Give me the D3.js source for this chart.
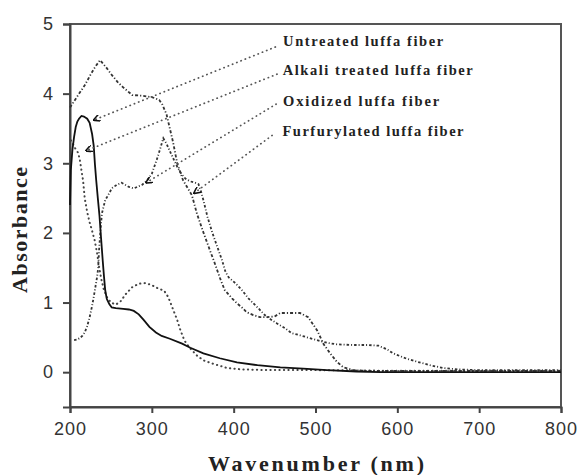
<!DOCTYPE html>
<html><head><meta charset="utf-8">
<script src="https://cdn.jsdelivr.net/npm/d3@7"></script>
<style>body{margin:0;background:#fff}svg{display:block}</style>
</head><body><svg id="c" width="577" height="475"></svg>
<script>
// ---- data ----
const xTicks = [200, 300, 400, 500, 600, 700, 800];
const yTicks = [0, 1, 2, 3, 4, 5];

// solid curve
const solidNm  = [200,201,203,205,207,209,211,214,217,221,224,227,229,230.5,232,234,236,238,240,241.5,243,245,248,251,256,265,272,278,284,290,297,305,312,322,337,347,363,383,404,429,457,485,514,550,580,800];
const solidAbs = [2.4,2.9,3.2,3.38,3.52,3.6,3.64,3.68,3.67,3.64,3.58,3.42,3.25,2.98,2.76,2.5,2.25,1.92,1.6,1.38,1.18,1.05,0.98,0.93,0.92,0.91,0.9,0.88,0.83,0.75,0.65,0.57,0.52,0.48,0.41,0.35,0.27,0.2,0.14,0.1,0.07,0.05,0.03,0.01,0,0];

// top dash-dot curve (peak 4.48)
const topNm  = [200,210,218,225,230.5,236.7,244,251,258,264,276,288,300,309,313,318,322,326,331,338,345,349,355,362,371,377,383,389,398,404,410,416,424,432,441,450,457,469,481,491,502,510,518,526,534,546,560,600,700,800];
const topAbs = [3.8,3.98,4.12,4.27,4.38,4.48,4.38,4.27,4.17,4.1,3.98,3.97,3.95,3.91,3.84,3.7,3.5,3.3,3.0,2.76,2.62,2.54,2.28,2.04,1.75,1.56,1.36,1.18,1.06,0.99,0.93,0.86,0.82,0.79,0.79,0.8,0.85,0.85,0.85,0.79,0.6,0.4,0.27,0.15,0.07,0.03,0.02,0.02,0.02,0.02];

// dash-dot curve rising from 0.46 (peak 3.36)
const midNm  = [205,209,212,215,218,221,224,227,229,231,233,234.5,235.5,237,239,243,248,251,257,263,272,278,288,294,300,306,310,314,318,323,327,331,336,341,347,353,357,360,363,368,374,380,386,390,394,402,410,418,424,430,438,445,453,463,471,481,493,502,515,526,545,565,577,587,595,610,624,640,656,675,697,750,800];
const midAbs = [0.46,0.47,0.49,0.52,0.57,0.66,0.79,0.95,1.08,1.22,1.36,1.5,1.75,2.0,2.28,2.47,2.57,2.64,2.69,2.72,2.66,2.64,2.69,2.75,2.85,3.05,3.2,3.36,3.28,3.15,3.05,2.95,2.85,2.78,2.74,2.72,2.7,2.6,2.47,2.23,2.0,1.8,1.6,1.44,1.36,1.28,1.18,1.06,0.99,0.92,0.82,0.76,0.7,0.63,0.56,0.53,0.49,0.46,0.42,0.4,0.39,0.39,0.38,0.33,0.27,0.2,0.15,0.1,0.06,0.04,0.03,0.03,0.03];

// sparse dotted curve
const dotNm  = [201,204,207,210,212,214,216,218,221,224,227,230,233,235,238,241,245,250,256,262,268,276,284,292,300,308,315,320,326,331,335,340,347,355,363,375,392,410,440,500,600,800];
const dotAbs = [3.33,3.27,3.2,3.15,3.05,2.9,2.75,2.5,2.3,2.15,2.03,1.9,1.72,1.55,1.35,1.2,1.08,1.0,0.97,1.02,1.12,1.22,1.27,1.28,1.25,1.2,1.17,1.08,0.9,0.75,0.6,0.45,0.34,0.24,0.17,0.12,0.06,0.04,0.03,0.03,0.02,0.02];

// annotation labels and leaders (data units)
const labels   = ["Untreated luffa fiber", "Alkali treated luffa fiber", "Oxidized  luffa fiber", "Furfurylated luffa fiber"];
const labelNm  = [460.4, 460, 460.4, 459.7];
const labelAbs = [4.68, 4.27, 3.82, 3.39];
const labelLen = [160, 190, 156, 181];
const leadStartNm  = [451, 453, 452, 447];
const leadStartAbs = [4.67, 4.28, 3.85, 3.4];
const leadEndNm    = [229, 219.6, 293, 351.6];
const leadEndAbs   = [3.62, 3.18, 2.72, 2.57];

// ---- chart ----
const svg = d3.select("#c");
svg.append("rect").attr("width",577).attr("height",475).attr("fill","#fff");
const x = d3.scaleLinear().domain([200, 800]).range([70, 561]);
const y = d3.scaleLinear().domain([-0.5, 5]).range([407, 24]);

// frame
svg.append("rect").attr("x",70).attr("y",24).attr("width",491).attr("height",383)
  .attr("fill","none").attr("stroke","#555").attr("stroke-width",2);

const xa = svg.append("g").attr("transform","translate(0,407)")
  .call(d3.axisBottom(x).tickValues(xTicks).tickSize(6).tickPadding(9).tickFormat(d3.format("d")));
const ya = svg.append("g").attr("transform","translate(70,0)")
  .call(d3.axisLeft(y).tickValues(yTicks).tickSize(7).tickPadding(9).tickFormat(d3.format("d")));
[xa, ya].forEach(a => {
  a.select(".domain").attr("stroke","#444").attr("stroke-width",2);
  a.selectAll(".tick line").attr("stroke","#444").attr("stroke-width",2);
  a.selectAll(".tick text").attr("fill","#333").attr("font-family","'Liberation Sans', Arial, sans-serif")
    .attr("font-size",18).attr("letter-spacing",1);
});

const line = (xs, ys) => d3.line().x((d,i)=>x(xs[i])).y((d,i)=>y(ys[i]))(xs);

svg.append("path").attr("d", line(dotNm, dotAbs)).attr("fill","none")
  .attr("stroke","#444").attr("stroke-width",2).attr("stroke-linecap","round").attr("stroke-dasharray","0.3,4.2");
svg.append("path").attr("d", line(topNm, topAbs)).attr("fill","none")
  .attr("stroke","#333").attr("stroke-width",1.8).attr("stroke-dasharray","3,2,1.2,2");
svg.append("path").attr("d", line(midNm, midAbs)).attr("fill","none")
  .attr("stroke","#333").attr("stroke-width",1.8).attr("stroke-dasharray","2.5,2,1,2");
svg.append("path").attr("d", line(solidNm, solidAbs)).attr("fill","none")
  .attr("stroke","#111").attr("stroke-width",1.8);

// arrow marker
svg.append("defs").append("marker").attr("id","arr").attr("viewBox","0 0 10 10")
  .attr("refX",9).attr("refY",5).attr("markerWidth",7).attr("markerHeight",7)
  .attr("orient","auto").attr("markerUnits","userSpaceOnUse")
  .append("path").attr("d","M0,0 L10,5 L0,10").attr("fill","none").attr("stroke","#111").attr("stroke-width",2.2);

labels.forEach((t,i) => {
  svg.append("line")
    .attr("x1", x(leadStartNm[i])).attr("y1", y(leadStartAbs[i]))
    .attr("x2", x(leadEndNm[i])).attr("y2", y(leadEndAbs[i]))
    .attr("stroke","#555").attr("stroke-width",1.7).attr("stroke-linecap","round")
    .attr("stroke-dasharray","0.3,4.3").attr("marker-end","url(#arr)");
  svg.append("text").attr("x", x(labelNm[i])).attr("y", y(labelAbs[i]))
    .attr("font-family","'Liberation Serif', 'Times New Roman', serif").attr("font-weight","bold")
    .attr("font-size",14.5).attr("fill","#222")
    .attr("textLength", labelLen[i]).attr("lengthAdjust","spacing")
    .text(t);
});

// axis titles
svg.append("text").attr("x",316).attr("y",471).attr("text-anchor","middle")
  .attr("font-family","'Liberation Serif', 'Times New Roman', serif").attr("font-weight","bold")
  .attr("font-size",22).attr("fill","#222").attr("textLength",216).attr("lengthAdjust","spacing")
  .text("Wavenumber (nm)");
svg.append("text").attr("transform","translate(27,230) rotate(-90)").attr("text-anchor","middle")
  .attr("font-family","'Liberation Serif', 'Times New Roman', serif").attr("font-weight","bold")
  .attr("font-size",22).attr("fill","#222").attr("textLength",126).attr("lengthAdjust","spacing")
  .text("Absorbance");
</script></body></html>
